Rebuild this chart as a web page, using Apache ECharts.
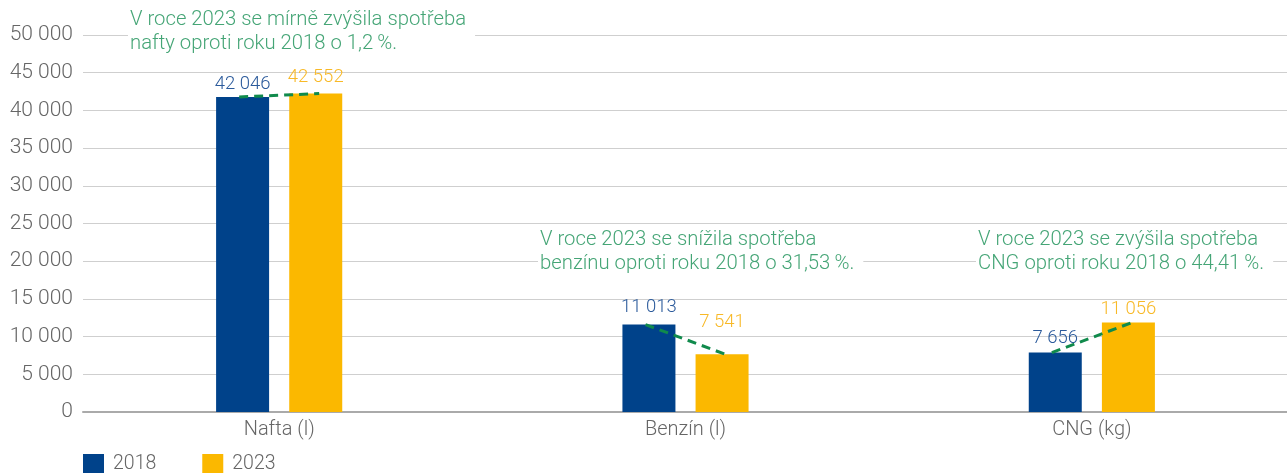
<!DOCTYPE html>
<html>
<head>
<meta charset="utf-8">
<script src="https://cdn.jsdelivr.net/npm/echarts@6/dist/echarts.min.js"></script>
<style>
  html, body { margin: 0; padding: 0; background: #fff; }
  #chart { width: 1287px; height: 473px; }
</style>
</head>
<body>
<div id="chart"></div>
<script>
// data
var categories = ['Nafta (l)', 'Benzín (l)', 'CNG (kg)'];
var seriesNames = ['2018', '2023'];
var bars2018 = [41780, 11590, 7880];     // bar heights as drawn
var bars2023 = [42230, 7650, 11860];
var labels2018 = [42046, 11013, 7656];   // printed values
var labels2023 = [42552, 7541, 11056];
var notes = [
    'V roce 2023 se mírně zvýšila spotřeba\nnafty oproti roku 2018 o 1,2\u2009%.',
    'V roce 2023 se snížila spotřeba\nbenzínu oproti roku 2018 o 31,53\u2009%.',
    'V roce 2023 se zvýšila spotřeba\nCNG oproti roku 2018 o 44,41\u2009%.'
];

// label gap above each bar (px)
var gap2018 = [3, 8, 4.5];
var gap2023 = [7, 22, 3.5];

var FONT = 'Roboto, "Liberation Sans", Arial, sans-serif';
var blue = '#00428a';
var yellow = '#fbb800';
var green = '#45a576';

function fmt(v) {
    return String(v).replace(/\B(?=(\d{3})+(?!\d))/g, ' ');
}

var chart = echarts.init(document.getElementById('chart'));

var trendData = categories.map(function (c, i) {
    return [i, bars2018[i], bars2023[i]];
});

var barItems = function (values, gaps) {
    return values.map(function (v, i) {
        return { value: v, label: { distance: gaps[i] } };
    });
};

var noteBox = function (text, left, top) {
    return {
        type: 'text',
        left: left,
        top: top,
        z: 100,
        style: {
            text: text,
            fill: green,
            fontFamily: FONT,
            fontWeight: 300,
            fontSize: 20.3,
            lineHeight: 24,
            backgroundColor: '#fff',
            padding: [0, 9, 0, 2]
        }
    };
};

chart.setOption({
    animation: false,
    // grid 0: value axis, split lines, base line; grid 1: the bars
    grid: [
        { left: 83, right: 0, top: 35, bottom: 61, outerBoundsMode: 'none' },
        { left: 76, width: 1219, top: 35, bottom: 61, outerBoundsMode: 'none' }
    ],
    legend: {
        data: seriesNames,
        left: 83,
        top: 454,
        padding: 0,
        itemWidth: 21,
        itemHeight: 20,
        itemGap: 46,
        icon: 'rect',
        textStyle: { fontFamily: FONT, fontWeight: 300, fontSize: 19.5, color: '#666', padding: [0, 0, 0, 4] }
    },
    xAxis: [
        {
            type: 'category',
            gridIndex: 0,
            data: categories,
            axisTick: { show: false },
            axisLabel: { show: false },
            axisLine: { lineStyle: { color: '#aaa', width: 2 } }
        },
        {
            type: 'category',
            gridIndex: 1,
            data: categories,
            axisTick: { show: false },
            axisLine: { show: false },
            axisLabel: { fontFamily: FONT, fontWeight: 300, fontSize: 20, color: '#666', margin: 8 }
        }
    ],
    yAxis: [
        {
            type: 'value',
            gridIndex: 0,
            min: 0,
            max: 50000,
            interval: 5000,
            axisLine: { show: false },
            axisTick: { show: false },
            splitLine: { lineStyle: { color: '#cfcfcf', width: 1 } },
            axisLabel: {
                fontFamily: FONT, fontWeight: 300, fontSize: 21, color: '#666', margin: 10,
                formatter: fmt
            }
        },
        {
            type: 'value',
            gridIndex: 1,
            min: 0,
            max: 50000,
            interval: 5000,
            show: false
        }
    ],
    series: [
        {
            name: '2018',
            type: 'bar',
            xAxisIndex: 1,
            yAxisIndex: 1,
            data: barItems(bars2018, gap2018),
            barWidth: 53,
            barGap: '38%',
            itemStyle: { color: blue },
            label: {
                show: true,
                position: 'top',
                color: '#2b5a9b',
                fontFamily: FONT,
                fontWeight: 300,
                fontSize: 18.5,
                formatter: function (p) { return fmt(labels2018[p.dataIndex]); }
            }
        },
        {
            name: '2023',
            type: 'bar',
            xAxisIndex: 1,
            yAxisIndex: 1,
            data: barItems(bars2023, gap2023),
            barWidth: 53,
            itemStyle: { color: yellow },
            label: {
                show: true,
                position: 'top',
                color: '#f8b927',
                fontFamily: FONT,
                fontWeight: 300,
                fontSize: 18.5,
                formatter: function (p) { return fmt(labels2023[p.dataIndex]); }
            }
        },
        {
            type: 'custom',
            name: 'trend',
            xAxisIndex: 1,
            yAxisIndex: 1,
            z: 10,
            data: trendData,
            encode: { x: 0, y: [1, 2] },
            renderItem: function (params, api) {
                var a = api.coord([api.value(0), api.value(1)]);
                var b = api.coord([api.value(0), api.value(2)]);
                return {
                    type: 'line',
                    shape: { x1: a[0] - 40, y1: a[1], x2: b[0] + 40, y2: b[1] },
                    style: { stroke: '#108a4c', lineWidth: 3, lineDash: [9, 6] }
                };
            }
        }
    ],
    graphic: [
        noteBox(notes[0], 128, 8),
        noteBox(notes[1], 538, 228),
        noteBox(notes[2], 976, 228)
    ]
});

window.onresize = function () {
    chart.resize();
};
</script>
</body>
</html>
